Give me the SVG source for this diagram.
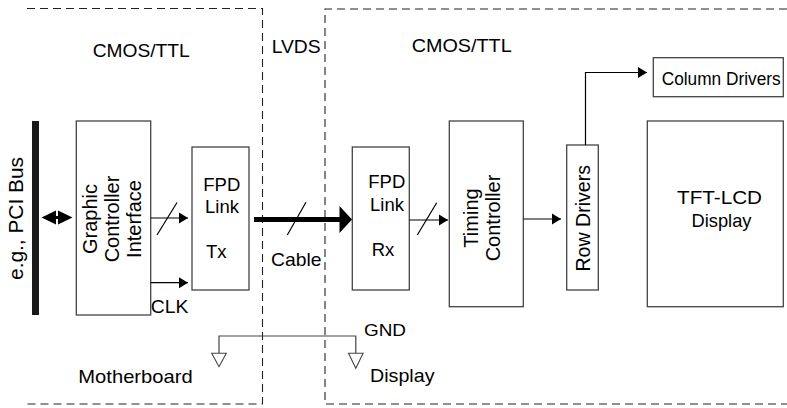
<svg xmlns="http://www.w3.org/2000/svg" width="787" height="408" viewBox="0 0 787 408">
<style>
  .box { fill: #ffffff; stroke: #444444; stroke-width: 1.3; }
  .bound { fill: none; stroke: #222222; stroke-width: 1.1; stroke-dasharray: 8 5; }
  .wire { fill: none; stroke: #000000; stroke-width: 1.2; }
  .gnd { fill: none; stroke: #444444; stroke-width: 1.2; }
  .tri { fill: #ffffff; stroke: #444444; stroke-width: 1.1; }
  .t { font-family: "Liberation Sans", Arial, sans-serif; font-size: 19px; fill: #000000; }
  .r { font-family: "Liberation Sans", Arial, sans-serif; font-size: 20px; fill: #000000; }
</style>
<defs>
  <marker id="ah" markerUnits="userSpaceOnUse" markerWidth="10" markerHeight="12" refX="9" refY="6" orient="auto">
    <path d="M0,0.5 L9,6 L0,11.5 z" fill="#000000"/>
  </marker>
</defs>
<rect width="787" height="408" fill="#ffffff"/>

<g id="boundaries">
  <path class="bound" d="M27,8.5 H262.5 V404 H27"/>
  <path class="bound" d="M787,9 H325 V404 H787"/>
</g>

<g id="labels">
  <text class="t" x="92.7" y="56.5" textLength="97" lengthAdjust="spacingAndGlyphs">CMOS/TTL</text>
  <text class="t" x="271.7" y="53.3" textLength="49" lengthAdjust="spacingAndGlyphs">LVDS</text>
  <text class="t" x="411.7" y="51.7" textLength="100" lengthAdjust="spacingAndGlyphs">CMOS/TTL</text>
  <text class="t" x="271" y="265.7" textLength="50.5" lengthAdjust="spacingAndGlyphs">Cable</text>
  <text class="t" x="150.7" y="313.3" style="font-size:18px" textLength="37.6" lengthAdjust="spacingAndGlyphs">CLK</text>
  <text class="t" x="364" y="335.5" style="font-size:17px" textLength="42" lengthAdjust="spacingAndGlyphs">GND</text>
  <text class="t" x="78.3" y="383.3" textLength="114.4" lengthAdjust="spacingAndGlyphs">Motherboard</text>
  <text class="t" x="370" y="381.5" textLength="64.5" lengthAdjust="spacingAndGlyphs">Display</text>
</g>

<g id="pci-bus">
  <rect x="32" y="121" width="7" height="194" fill="#1a1a1a"/>
  <text class="r" transform="translate(22.7,218.5) rotate(-90)" text-anchor="middle" textLength="123" lengthAdjust="spacingAndGlyphs">e.g., PCI Bus</text>
</g>

<g id="graphic-controller">
  <rect class="box" x="76.3" y="121" width="74.4" height="194"/>
  <text class="r" transform="translate(96.5,219) rotate(-90)" text-anchor="middle">Graphic</text>
  <text class="r" transform="translate(119,219) rotate(-90)" text-anchor="middle">Controller</text>
  <text class="r" transform="translate(141,219) rotate(-90)" text-anchor="middle">Interface</text>
</g>

<g id="fpd-tx">
  <rect class="box" x="192" y="147" width="57" height="143"/>
  <text class="t" x="203.3" y="190.8" style="font-size:18.5px">FPD</text>
  <text class="t" x="205" y="213.3" style="font-size:18.5px">Link</text>
  <text class="t" x="206" y="257.8" style="font-size:18.5px">Tx</text>
</g>

<g id="fpd-rx">
  <rect class="box" x="352.3" y="147" width="57" height="143"/>
  <text class="t" x="368.3" y="188.3" style="font-size:18.5px">FPD</text>
  <text class="t" x="370" y="210.7" style="font-size:18.5px">Link</text>
  <text class="t" x="371.7" y="255.7" style="font-size:18.5px">Rx</text>
</g>

<g id="timing-controller">
  <rect class="box" x="449.3" y="121" width="74" height="185.7"/>
  <text class="r" transform="translate(477.5,218) rotate(-90)" text-anchor="middle">Timing</text>
  <text class="r" transform="translate(499.5,218) rotate(-90)" text-anchor="middle">Controller</text>
</g>

<g id="row-drivers">
  <rect class="box" x="566.7" y="145" width="31.6" height="145"/>
  <text class="r" transform="translate(590,218.3) rotate(-90)" text-anchor="middle" textLength="106.5" lengthAdjust="spacingAndGlyphs">Row Drivers</text>
</g>

<g id="column-drivers">
  <rect class="box" x="653.3" y="57.7" width="130" height="39"/>
  <text class="t" x="661.7" y="85" style="font-size:18px" textLength="119" lengthAdjust="spacingAndGlyphs">Column Drivers</text>
</g>

<g id="tft-lcd">
  <rect class="box" x="647.3" y="121" width="136" height="185.7"/>
  <text class="t" x="719.5" y="204" text-anchor="middle" textLength="85" lengthAdjust="spacingAndGlyphs">TFT-LCD</text>
  <text class="t" x="721.5" y="226.7" text-anchor="middle" textLength="60" lengthAdjust="spacingAndGlyphs">Display</text>
</g>

<g id="ground">
  <polyline class="gnd" points="219,353.3 219,336 355.8,336 355.8,353.3"/>
  <polygon class="tri" points="211.7,353.3 226.3,353.3 219,366.7"/>
  <polygon class="tri" points="348.5,353.3 363.1,353.3 355.8,368.3"/>
</g>

<g id="connectors">
  <line x1="48" y1="217.5" x2="66" y2="217.5" stroke="#000" stroke-width="3"/>
  <polygon points="41.5,217.5 56,210.5 56,224.5" fill="#000"/>
  <polygon points="72.5,217.5 58,210.5 58,224.5" fill="#000"/>

  <line class="wire" x1="150.7" y1="218" x2="188" y2="218" marker-end="url(#ah)"/>
  <line class="wire" x1="157" y1="235" x2="177" y2="202.5"/>
  <line class="wire" x1="150.7" y1="282.7" x2="188" y2="282.7" marker-end="url(#ah)"/>

  <line x1="254" y1="219.5" x2="341" y2="219.5" stroke="#000" stroke-width="5"/>
  <polygon points="339.5,206 352,219.5 339.5,233" fill="#000"/>
  <line class="wire" x1="287.3" y1="235" x2="306" y2="202.3"/>

  <line class="wire" x1="409.3" y1="220" x2="448" y2="220" marker-end="url(#ah)"/>
  <line class="wire" x1="417.3" y1="235" x2="436.7" y2="202.7"/>

  <line class="wire" x1="523.3" y1="219" x2="561" y2="219" marker-end="url(#ah)"/>

  <polyline class="wire" points="585.5,145 585.5,72.5 647,72.5" marker-end="url(#ah)"/>
</g>
</svg>
